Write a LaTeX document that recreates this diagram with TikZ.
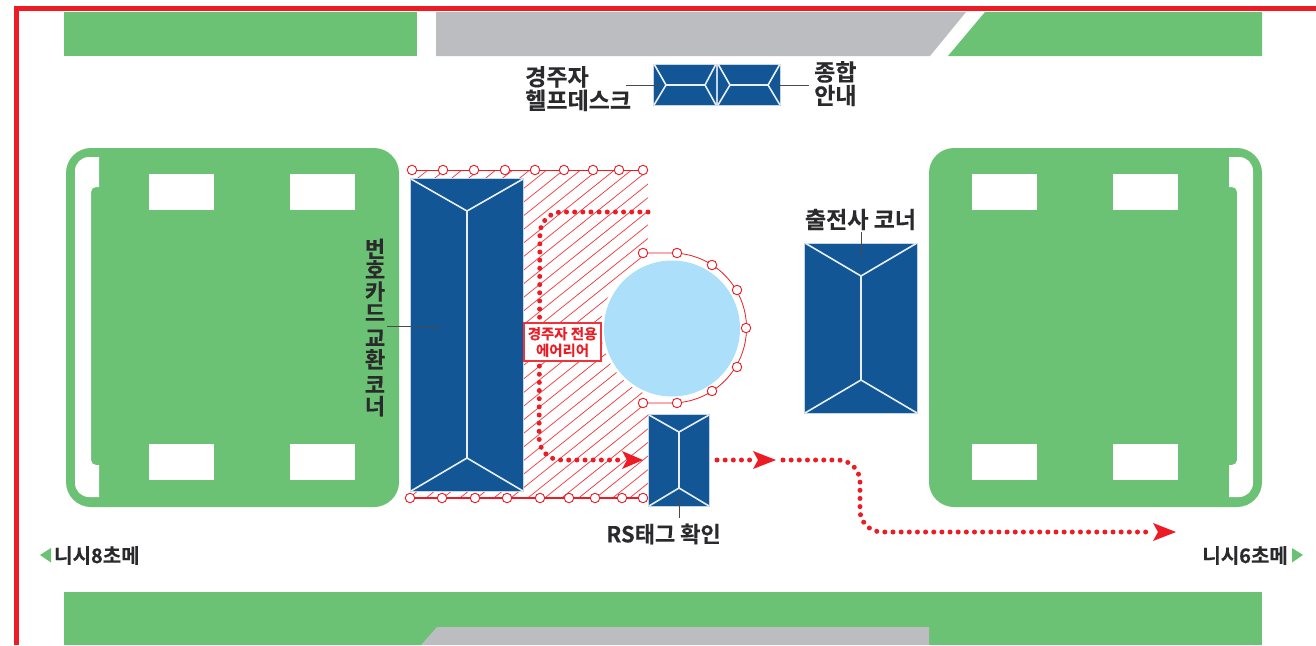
\documentclass[tikz,border=0pt]{standalone}
\usepackage{fontspec}
\setmainfont{Noto Sans CJK KR}[BoldFont={Noto Sans CJK KR Bold},BoldFeatures={FakeBold=0.25}]
\definecolor{grn}{HTML}{6BC174}
\definecolor{blu}{HTML}{135696}
\definecolor{gry}{HTML}{BBBDC0}
\definecolor{sky}{HTML}{ABDFFA}
\definecolor{rd}{HTML}{ED1C24}
\definecolor{ink}{HTML}{2A2A2C}
\tikzset{
  lab/.style={font=\bfseries\fontsize{23}{23.5}\selectfont,text=ink,inner sep=0pt,align=left},
  smalllab/.style={font=\bfseries\fontsize{20}{20}\selectfont,text=ink,inner sep=0pt},
  leader/.style={draw=ink!85,line width=1pt},
  panel/.style={fill=blu,draw=white!75!blu,line width=0.8pt},
  ridge/.style={draw=white!90!blu,line width=1.6pt},
  hatchline/.style={draw=rd!85,line width=0.75pt},
  ring/.style={circle,draw=rd,fill=white,line width=0.9pt,minimum size=9.5pt,inner sep=0pt},
  route/.style={draw=rd,line width=5pt,line cap=round,dash pattern=on 0pt off 8.15pt,rounded corners=22pt},
  tip/.style={fill=rd,draw=none},
  hole/.style={fill=white,draw=none}
}
\begin{document}
\begin{tikzpicture}[x=1pt,y=-1pt]
\useasboundingbox (0,0) rectangle (1316,645);
\fill[white] (0,0) rectangle (1316,645);
% road strips
\fill[grn] (64,12) rectangle (417,56);
\fill[gry] (436,12) -- (966,12) -- (930,56) -- (436,56) -- cycle;
\fill[grn] (985,12) -- (1262,12) -- (1262,56) -- (948,56) -- cycle;
\fill[grn] (64,592) rectangle (1262,645);
\fill[gry] (437,627) -- (929,627) -- (929,645) -- (421,645) -- cycle;
% frame
\draw[rd,line width=5pt] (16.8,645) -- (16.8,8.5) -- (1316,8.5);
% left hall
\fill[grn,rounded corners=25pt] (66,148) rectangle (399,507);
\fill[hole] (99,157) -- (89,157) arc[start angle=-90,end angle=-180,radius=14] -- (75,483) arc[start angle=180,end angle=90,radius=14] -- (99,497) -- (99,465) -- (96,465) arc[start angle=90,end angle=180,radius=5] -- (91,192) arc[start angle=180,end angle=270,radius=5] -- (99,187) -- cycle;
\foreach \x in {149,290}{\fill[hole] (\x,174) rectangle ++(65,36);\fill[hole] (\x,444) rectangle ++(65,36);}
% right hall
\fill[grn,rounded corners=25pt] (929,148) rectangle (1262,507);
\fill[hole] (1229,157) -- (1239,157) arc[start angle=-90,end angle=0,radius=14] -- (1253,483) arc[start angle=0,end angle=90,radius=14] -- (1229,497) -- (1229,465) -- (1232,465) arc[start angle=90,end angle=0,radius=5] -- (1237,192) arc[start angle=0,end angle=-90,radius=5] -- (1229,187) -- cycle;
\foreach \x in {972,1113}{\fill[hole] (\x,174) rectangle ++(65,36);\fill[hole] (\x,444) rectangle ++(65,36);}
% hatched area
\begin{scope}
\clip (411,170) rectangle (648,498);
\foreach \k in {0,...,39}{
  \draw[hatchline] (411,{170+13.6*\k}) -- (648,{170+13.6*\k-190});
}
\end{scope}
\fill[white] (672,328) circle[radius=71];
\fill[sky] (672,328.5) circle[radius=68];
% ring outlines
\draw[rd,line width=0.8pt] (412,170) -- (643,170);
\draw[rd,line width=1.2pt] (410,498) -- (643,498);
\draw[rd,line width=0.8pt] (643,253) -- (671.5,253) arc[start angle=-90,end angle=90,radius=75] -- (643,403);
\foreach \n/\x in {a/412,b/443,c/474,d/505,e/535,f/564,g/593,h/619,i/643}{\node[ring] (top\n) at (\x,170) {};}
\foreach \n/\x in {a/410,b/442,c/475,d/507,e/540,f/569,g/595,h/622,i/643}{\node[ring] (bot\n) at (\x,498) {};}
\foreach \n/\x/\y in {a/643/253,b/677/253,c/712/265,d/737/290,e/746/328,f/737/367,g/712/391,h/677/403,i/643/403}{\node[ring] (arc\n) at (\x,\y) {};}
% panels
\draw[panel] (410.5,178.5) rectangle (523.5,491.5);
\draw[ridge] (411,179) -- (467,211) -- (523,179) (467,211) -- (467,458) (411,491) -- (467,458) -- (523,491);
\draw[panel] (804.5,243) rectangle (917.5,413.5);
\draw[ridge] (805,243) -- (861,276) -- (917,243) (861,276) -- (861,380) (805,413) -- (861,380) -- (917,413);
\draw[panel] (648.5,414.5) rectangle (709.5,506.5);
\draw[ridge] (649,415) -- (679,432) -- (709,415) (679,432) -- (679,488) (649,506) -- (679,488) -- (709,506);
\draw[panel] (653.5,64) rectangle (716.5,105.5);
\draw[ridge] (654,64) -- (666,85) -- (654,105) (666,85) -- (705,85) (716,64) -- (705,85) -- (716,105);
\draw[panel] (717.5,64) rectangle (780.5,105.5);
\draw[ridge] (718,64) -- (730,85) -- (718,105) (730,85) -- (768,85) (780,64) -- (768,85) -- (780,105);
% routes
\coordinate (r1a) at (648,212);
\coordinate (r1b) at (540,212);
\coordinate (r1c) at (539,460);
\coordinate (r1d) at (622,460);
\draw[route] (r1a) -- (r1b) -- (r1c) -- (r1d);
\fill[tip] (622,451) -- (643,460) -- (622,469) -- (627,460) -- cycle;
\coordinate (r2a) at (717,460);
\coordinate (r2b) at (752,460);
\draw[route] (r2a) -- (r2b);
\fill[tip] (753,451) -- (776,460) -- (753,469) -- (758,460) -- cycle;
\coordinate (r3a) at (783,460);
\coordinate (r3b) at (860,460);
\coordinate (r3c) at (860,532);
\coordinate (r3d) at (1153,532);
\draw[route] (r3a) -- (r3b) -- (r3c) -- (r3d);
\fill[tip] (1153,523) -- (1176,532) -- (1153,541) -- (1158,532) -- cycle;
% zone label
\node[draw=rd!90,fill=white,line width=1.2pt,minimum width=77pt,minimum height=38pt,inner sep=0pt,align=center,text=rd,font=\bfseries\fontsize{14.4}{16.5}\selectfont] (zone) at (562.5,342) {경주자 전용\\에어리어};
% leaders and labels
\node[lab,anchor=north west] (helpdesk) at (525,66) {경주자\\헬프데스크};
\node[lab,anchor=north west] (info) at (814,61) {종합\\안내};
\node[lab,anchor=center] (corner) at (860.5,219.5) {출전사 코너};
\node[lab,anchor=center,font=\bfseries\fontsize{22}{23}\selectfont] (rstag) at (663.5,534) {RS태그 확인};
\node[lab,anchor=center,align=center,font=\bfseries\fontsize{22}{21.3}\selectfont] (card) at (375,327.5) {번\\호\\카\\드\\[4pt]교\\환\\[4pt]코\\너};
\coordinate (l1a) at (626,85); \coordinate (l1b) at (660,85);
\coordinate (l2a) at (776,85); \coordinate (l2b) at (809,85);
\coordinate (l3a) at (861,232); \coordinate (l3b) at (861,258);
\coordinate (l4a) at (679,495); \coordinate (l4b) at (679,518);
\coordinate (l5a) at (387,326); \coordinate (l5b) at (440,326);
\foreach \p/\q in {l1a/l1b,l2a/l2b,l3a/l3b,l4a/l4b,l5a/l5b}{\draw[leader] (\p) -- (\q);}
% exits
\fill[grn] (40,555) -- (51,548) -- (51,562.5) -- cycle;
\node[smalllab,anchor=west] (exitl) at (54,555.5) {니시8초메};
\fill[grn] (1303,555) -- (1292,548) -- (1292,562.5) -- cycle;
\node[smalllab,anchor=east] (exitr) at (1288,555.5) {니시6초메};
\end{tikzpicture}
\end{document}
